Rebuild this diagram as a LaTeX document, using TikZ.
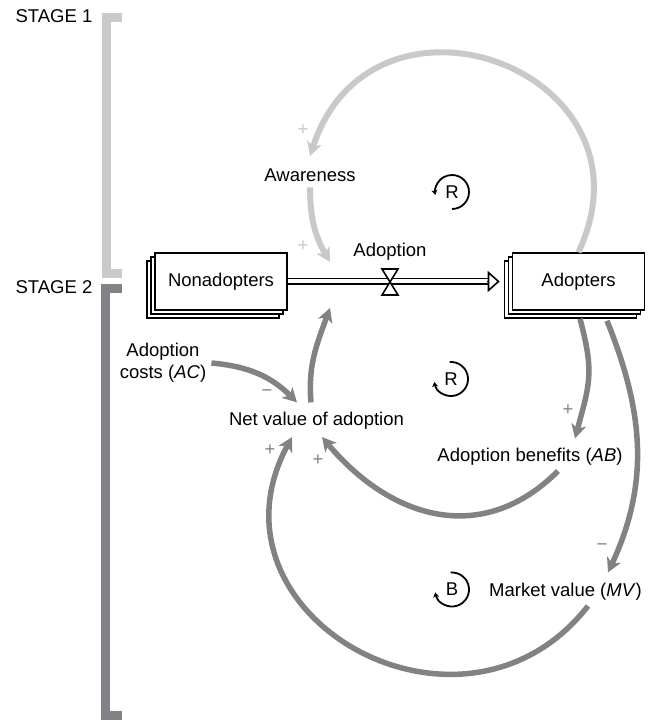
\documentclass[tikz,border=0pt]{standalone}
\usepackage{fontspec}
\setmainfont{Liberation Sans}
\usetikzlibrary{arrows.meta,shadows}
\definecolor{stageone}{HTML}{C8C9CB}
\definecolor{stagetwo}{HTML}{808285}

\begin{document}
\begin{tikzpicture}[x=1pt, y=1pt, font=\fontsize{18.5}{22}\selectfont]
\tikzstyle{stock}=
[
    %Stacked boxes for the two stocks
    draw=black, fill=white, line width=1.6pt,
    minimum width=132pt, minimum height=57pt,
    copy shadow={shadow xshift=-8pt, shadow yshift=-8pt, line width=1.6pt},
    copy shadow={shadow xshift=-4pt, shadow yshift=-4pt, line width=1.6pt}
    ]
\tikzstyle{var}=[inner sep=5pt]
\tikzstyle{pipe}=[double=white, double distance=4pt, line width=1.6pt]
\tikzstyle{valvebox}=[draw=black, fill=white, line width=1.6pt, line join=miter]
\tikzstyle{bracket}=[line width=9pt, line join=miter]
%Causal links of stage 1 and stage 2
\tikzstyle{linkone}=[stageone, line width=6pt, -{Stealth[length=14pt, width=15pt, inset=4pt]}]
\tikzstyle{linktwo}=[stagetwo, line width=5.5pt, -{Stealth[length=14pt, width=15pt, inset=4pt]}]
\tikzstyle{signone}=[text=stageone, inner sep=0pt]
\tikzstyle{signtwo}=[text=stagetwo, inner sep=0pt]
\tikzstyle{loopsym}=[line width=1.8pt, -{Stealth[length=5pt, width=6pt]}]

\useasboundingbox (0,0) rectangle (653,721);

%Stage brackets
\node[anchor=base] (stgone) at (54,698) {STAGE 1};
\node[anchor=base] (stgtwo) at (54,427) {STAGE 2};
\draw[bracket, stageone] (122,703.5) -- (106,703.5) -- (106,447.5) -- (122,447.5);
\draw[bracket, stagetwo] (122,432.5) -- (105.5,432.5) -- (105.5,5.5) -- (122,5.5);

%Stocks and flow
\node[stock] (nonad) at (221,439.5) {Nonadopters};
\node[stock] (adopt) at (578.5,439.5) {Adopters};
\coordinate (valve) at (390,439);
\draw[pipe] (nonad.east) -- ([xshift=-24pt]adopt.west);
\draw[line width=1.6pt, -{Triangle[length=12pt, width=21pt, fill=white]}]
    ([xshift=-25pt]adopt.west) -- ([xshift=-12pt]adopt.west);
\draw[valvebox] ([shift={(-8,13)}]valve) -- ([shift={(8,13)}]valve)
    -- ([shift={(-8,-13)}]valve) -- ([shift={(8,-13)}]valve) -- cycle;
\node[anchor=base] (flowlbl) at (390,464) {Adoption};
\coordinate (flowin) at (330,459);
\coordinate (flowout) at (330,413);

%Variables
\node[var, anchor=base] (aware) at (310,539) {Awareness};
\node[var, align=center] (acost) at (163,358) {Adoption\\costs (\textit{AC})};
\node[var, anchor=base] (netval) at (316.5,295) {Net value of adoption};
\node[var, anchor=base] (abenef) at (530,259) {Adoption benefits (\textit{AB})};
\node[var, anchor=base] (mval) at (565.5,124) {Market value (\textit{MV})};

%Stage 1 links
\draw[linkone] (adopt.north) to[out=65, in=72, looseness=1.8] ([yshift=8pt]aware.north);
\draw[linkone] (aware.south) to[out=-90, in=120] (flowin);
\node[signone] (sgnone) at (303,591) {+};
\node[signone] (sgntwo) at (303,475) {+};

%Stage 2 links
\draw[linktwo] (acost.east) to[out=-5, in=135] ([xshift=-19.5pt,yshift=5pt]netval.north);
\draw[linktwo] ([xshift=-5.5pt,yshift=5pt]netval.north) to[out=95, in=-110] (flowout);
\draw[linktwo] ([xshift=1.5pt,yshift=-8pt]adopt.south) to[out=-75, in=75, looseness=1.2]
    ([xshift=45pt,yshift=5pt]abenef.north);
\draw[linktwo] ([xshift=28.5pt,yshift=-10pt]adopt.south) to[out=-68, in=65]
    ([xshift=42.5pt,yshift=6pt]mval.north);
\draw[linktwo] ([xshift=28pt]abenef.south) to[out=-135, in=-50, looseness=1.15]
    ([xshift=5.5pt,yshift=-2pt]netval.south);
\draw[linktwo] ([xshift=22.5pt]mval.south) .. controls +(-126,-161) and +(-96,-178) ..
    ([xshift=-24.5pt,yshift=-2pt]netval.south);
\node[signtwo] (sgnac) at (267,328) {−};
\node[signtwo] (sgnab) at (568,311) {+};
\node[signtwo] (sgnmv) at (602,174) {−};
\node[signtwo] (sgnleft) at (270,271) {+};
\node[signtwo] (sgnright) at (318,261) {+};

%Loop markers
\node (loopRone) at (452,529) {R};
\draw[loopsym] (loopRone.center) ++(-90:17pt) arc[start angle=-90, end angle=190, radius=17pt];
\node (loopRtwo) at (451,342) {R};
\draw[loopsym] (loopRtwo.center) ++(95:17pt) arc[start angle=95, end angle=-170, radius=17pt];
\node (loopB) at (452,131.5) {B};
\draw[loopsym] (loopB.center) ++(95:17pt) arc[start angle=95, end angle=-170, radius=17pt];
\end{tikzpicture}
\end{document}
